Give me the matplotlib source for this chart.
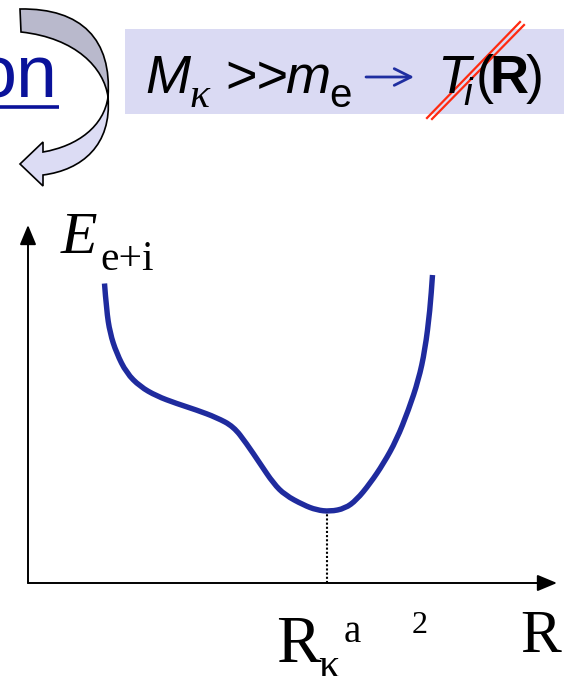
import numpy as np
import matplotlib.pyplot as plt
from matplotlib.path import Path
from matplotlib.patches import PathPatch, Rectangle

# energy curve E(R) in arbitrary units
R_vals = [1.53, 1.57, 1.64, 1.77, 1.97, 2.24, 2.57, 2.97, 3.37, 3.77, 4.11, 4.37,
          4.64, 4.91, 5.14, 5.51, 5.77, 6.04, 6.34, 6.57, 6.84, 7.11, 7.37, 7.61,
          7.81, 7.94, 8.04, 8.09]
E_vals = [5.99, 5.46, 5.00, 4.60, 4.20, 3.93, 3.74, 3.59, 3.46, 3.31, 3.13, 2.79,
          2.39, 1.99, 1.76, 1.56, 1.46, 1.43, 1.49, 1.66, 1.99, 2.39, 2.86, 3.46,
          4.06, 4.66, 5.46, 6.16]
R_min = 5.97
E_min = 1.43

serif = 'Liberation Serif'
sans = 'Liberation Sans'

fig = plt.figure(figsize=(5.64, 6.76), dpi=100)

# overlay in pixel coords for the header decorations and labels
top = fig.add_axes([0, 0, 1, 1])
top.set_xlim(0, 564)
top.set_ylim(676, 0)
top.axis('off')

# header box
top.add_patch(Rectangle((125, 29), 450, 85, facecolor='#dadaf3', edgecolor='none'))

# "on" (cut off link text)
top.text(58, 97, 'on', fontsize=53, family=sans, color='#0a129a', ha='right', va='baseline')
top.plot([0, 59], [107, 107], color='#0a129a', lw=2.6, solid_capstyle='butt')

# curved twisted arrow
back = Path([(20, 9), (82, 8), (112, 40), (108, 97),
             (104, 68), (76, 38), (21, 32), (20, 9)],
            [Path.MOVETO, Path.CURVE4, Path.CURVE4, Path.CURVE4,
             Path.CURVE4, Path.CURVE4, Path.CURVE4, Path.CLOSEPOLY])
front = Path([(108, 97), (112, 145), (82, 170), (43, 175),
              (43, 186), (20, 164), (43, 142), (43, 152),
              (78, 146), (104, 126), (108, 97), (108, 97)],
             [Path.MOVETO, Path.CURVE4, Path.CURVE4, Path.CURVE4,
              Path.LINETO, Path.LINETO, Path.LINETO, Path.LINETO,
              Path.CURVE4, Path.CURVE4, Path.CURVE4, Path.CLOSEPOLY])
top.add_patch(PathPatch(back, facecolor='#b9b9cc', edgecolor='black', lw=1.2))
top.add_patch(PathPatch(front, facecolor='#dcdcf4', edgecolor='black', lw=1.2))

# header formula
top.text(145, 93, 'M', fontsize=39, family=sans, style='italic', va='baseline')
top.text(189, 107, 'κ', fontsize=30, family=serif, style='italic', va='baseline')
top.text(225, 93, '>>', fontsize=39, family=sans, va='baseline')
top.text(285, 93, 'm', fontsize=39, family=sans, style='italic', va='baseline')
top.text(329, 107, 'e', fontsize=29, family=sans, va='baseline')
top.annotate('', xy=(414, 77), xytext=(366, 77),
             arrowprops=dict(arrowstyle='->,head_length=0.6,head_width=0.3',
                             color='#1f2ea0', lw=2, mutation_scale=20,
                             shrinkA=0, shrinkB=0))
top.text(437, 93, 'T', fontsize=39, family=sans, style='italic', va='baseline')
top.text(463, 105, 'i', fontsize=28, family=sans, style='italic', va='baseline')
top.text(476, 93, '(', fontsize=39, family=sans, va='baseline')
top.text(489, 93, 'R', fontsize=39, family=sans, weight='bold', va='baseline')
top.text(526, 93, ')', fontsize=39, family=sans, va='baseline')
top.plot([427, 520], [118, 22], color='#ff2a10', lw=1.6)
top.plot([432, 524], [119, 25], color='#ff2a10', lw=1.6)

# diagram labels
top.text(61, 253, 'E', fontsize=43, family=serif, style='italic', va='baseline')
top.text(100, 270, 'e+i', fontsize=30, family=serif, va='baseline')
top.text(276, 662, 'R', fontsize=48, family=serif, va='baseline')
top.text(318, 677, 'κ', fontsize=30, family=serif, va='baseline', clip_on=True)
top.text(344, 642, 'a', fontsize=28, family=serif, va='baseline')
top.text(412, 633, '2', fontsize=23, family=serif, va='baseline')
top.text(520, 652, 'R', fontsize=44, family=serif, va='baseline')

# energy diagram
ax = fig.add_axes([28 / 564, (676 - 583) / 676, (557 - 28) / 564, (583 - 225) / 676])
ax.patch.set_alpha(0)
ax.set_xlim(0, 10.58)
ax.set_ylim(0, 7.16)
ax.axis('off')

arrow_kw = dict(arrowstyle='-|>,head_length=0.6,head_width=0.25', color='black',
                lw=1.4, mutation_scale=20, shrinkA=0, shrinkB=0)
ax.annotate('', xy=(1, 0), xytext=(0, 0), xycoords='axes fraction',
            textcoords='axes fraction', arrowprops=arrow_kw, annotation_clip=False)
ax.annotate('', xy=(0, 1), xytext=(0, 0), xycoords='axes fraction',
            textcoords='axes fraction', arrowprops=arrow_kw, annotation_clip=False)

ax.plot([R_min, R_min], [0, E_min], color='black', lw=1.5, ls=(0, (1, 1)))

# smooth the read points with quadratic segments through midpoints
pts = list(zip(R_vals, E_vals))
verts = [pts[0]]
codes = [Path.MOVETO]
for i in range(1, len(pts) - 1):
    mid = ((pts[i][0] + pts[i + 1][0]) / 2, (pts[i][1] + pts[i + 1][1]) / 2)
    verts += [pts[i], mid]
    codes += [Path.CURVE3, Path.CURVE3]
verts.append(pts[-1])
codes.append(Path.LINETO)
ax.add_patch(PathPatch(Path(verts, codes), fill=False, edgecolor='#1f2b9e', lw=3.9,
                       capstyle='butt', clip_on=False))

fig.savefig('out.png', dpi=100)
